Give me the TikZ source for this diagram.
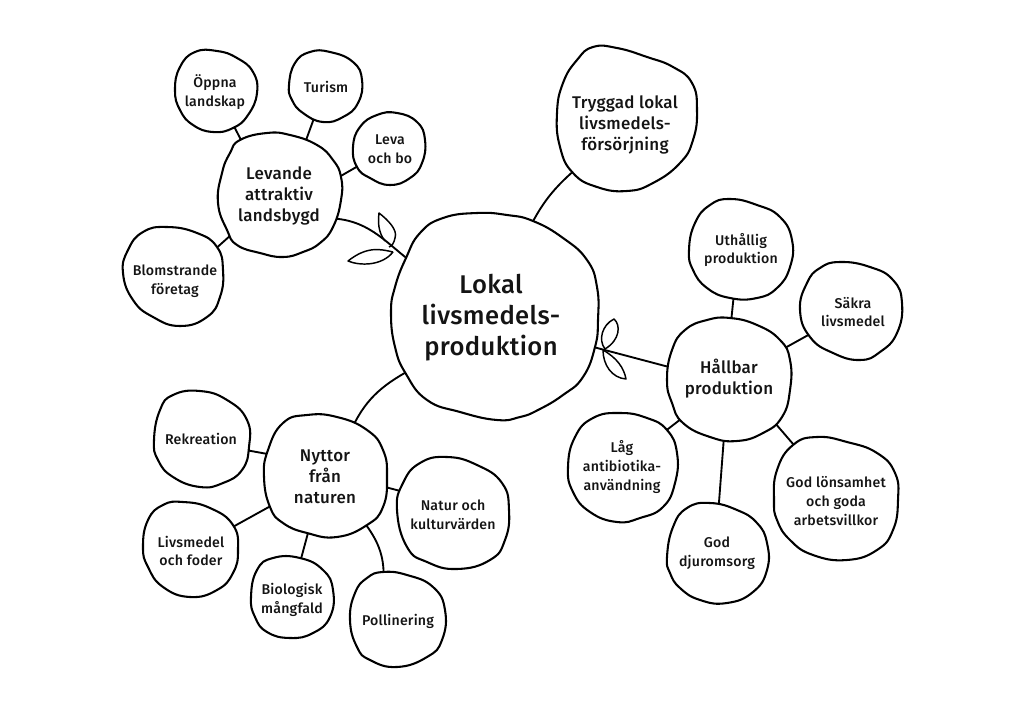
\documentclass[tikz,border=0pt]{standalone}
\usepackage{fontspec}
\setmainfont[UprightFont=* Medium,Ligatures=NoCommon,LetterSpace=1.5]{Fira Sans}
\pgfdeclarelayer{fg}
\pgfsetlayers{main,fg}
\tikzset{
  blobline/.style={draw=black,fill=white,line width=1.55pt,line join=round},
  conn/.style={draw=black,line width=1.4pt},
  leafline/.style={draw=black,line width=1.1pt,line join=round},
  base/.style={shape=circle,inner sep=0pt,align=center,text=black!92},
  rad/.style={minimum size=#1*1.5pt},
  big/.style={base,font=\fontsize{19.2}{23.3}\selectfont},
  mid/.style={base,font=\fontsize{12.7}{15.8}\selectfont},
  sml/.style={base,font=\fontsize{10.6}{14}\selectfont},
}
\newcommand{\blobshape}[1]{\draw[blobline] plot[smooth cycle,tension=.8] coordinates {#1};}
\begin{document}
\begin{tikzpicture}[x=.75pt,y=-.75pt]
\useasboundingbox (0,0) rectangle (1024,717);
\fill[white] (0,0) rectangle (1024,717);
\begin{pgfonlayer}{fg}
\node[big,rad=90] (main) at (491,318) {Lokal\\livsmedels-\\produktion};
\node[mid,rad=60] (lev) at (279,196) {Levande\\attraktiv\\landsbygd};
\node[mid,rad=60] (tryg) at (625,125) {Tryggad lokal\\livsmedels-\\försörjning};
\node[mid,rad=56] (hall) at (729,379) {Hållbar\\produktion};
\node[mid,rad=56] (nyt) at (325,477) {Nyttor\\från\\naturen};
\node[sml,rad=38] (oppna) at (215,92) {Öppna\\landskap};
\node[sml,rad=33] (tur) at (326,87) {Turism};
\node[sml,rad=34] (leva) at (390,149) {Leva\\och bo};
\node[sml,rad=44] (blom) at (175,281) {Blomstrande\\företag};
\node[sml,rad=46] (uth) at (741,250) {Uthållig\\produktion};
\node[sml,rad=45] (sak) at (853,312) {Säkra\\livsmedel};
\node[sml,rad=48] (lag) at (622,467) {Låg\\antibiotika-\\användning};
\node[sml,rad=45] (djur) at (717,553) {God\\djuromsorg};
\node[sml,rad=56] (god) at (836,501) {God lönsamhet\\och goda\\arbetsvillkor};
\node[sml,rad=44] (rek) at (201,439) {Rekreation};
\node[sml,rad=44] (liv) at (191,551) {Livsmedel\\och foder};
\node[sml,rad=37] (bio) at (292,600) {Biologisk\\mångfald};
\node[sml,rad=44] (pol) at (398,621) {Pollinering};
\node[sml,rad=50] (nat) at (453,515) {Natur och\\kulturvärden};
\end{pgfonlayer}
% connectors
\draw[conn] (lev.-22) to[out=-5,in=144] (main.145);
\draw[conn] (tryg.222) to[out=220,in=65] (main.67);
\draw[conn] (nyt.61) to[out=65,in=208] (main.213);
\draw[conn] (main.-16) -- (hall.169);
\draw[conn] (oppna.-61) -- (lev.125);
\draw[conn] (tur.249) -- (lev.64);
\draw[conn] (leva.208) -- (lev.17);
\draw[conn] (blom.38) -- (lev.219);
\draw[conn] (uth.-99) -- (hall.88);
\draw[conn] (sak.207) -- (hall.29);
\draw[conn] (lag.40) -- (hall.220);
\draw[conn] (djur.88) -- (hall.-95);
\draw[conn] (god.126) -- (hall.-43);
\draw[conn] (rek.-14) -- (nyt.157);
\draw[conn] (liv.30) -- (nyt.208);
\draw[conn] (bio.78) -- (nyt.-107);
\draw[conn] (pol.109) to[out=88,in=-52] (nyt.-49);
\draw[conn] (nat.154) -- (nyt.-9);
% blobs
\blobshape{(406,258)(420,233)(443,218)(477,213)(507,215)(533,221)(563,238)(587,260)(597,287)(598,320)(595,347)(583,377)(563,395)(538,410)(520,417)(497,420)(460,412)(427,400)(406,374)(395,347)(391,313)(395,287)}
\blobshape{(573,173)(597,187)(627,191)(653,183)(680,163)(693,140)(697,110)(692,83)(673,67)(647,57)(617,48)(593,47)(577,60)(563,83)(557,113)(560,147)}
\blobshape{(240,140)(267,133)(290,135)(317,145)(333,160)(341,177)(341,200)(333,227)(320,243)(303,252)(283,257)(260,253)(237,245)(227,230)(218,203)(222,173)(230,153)}
\blobshape{(175,90)(180,67)(195,52)(217,51)(237,58)(253,72)(257,93)(248,115)(233,128)(213,132)(193,125)(180,110)}
\blobshape{(289,85)(295,63)(310,52)(330,52)(353,62)(362,80)(358,103)(343,117)(323,122)(303,113)(292,100)}
\blobshape{(353,147)(360,127)(377,115)(397,113)(417,122)(425,140)(422,163)(410,178)(390,185)(370,178)(357,167)}
\blobshape{(123,273)(128,250)(143,232)(167,227)(197,233)(217,247)(223,270)(220,297)(207,317)(180,326)(153,317)(133,300)}
\blobshape{(689,250)(695,223)(710,205)(730,199)(757,205)(780,217)(792,240)(790,267)(777,288)(757,298)(730,298)(707,288)(693,270)}
\blobshape{(800,310)(807,283)(820,268)(840,262)(870,267)(893,280)(902,303)(897,333)(880,352)(860,360)(833,353)(810,337)}
\blobshape{(667,380)(672,350)(685,330)(707,320)(730,318)(757,325)(780,340)(790,360)(790,390)(782,417)(763,433)(737,441)(710,437)(683,423)(672,403)}
\blobshape{(568,467)(575,437)(593,418)(620,413)(647,418)(667,430)(677,453)(675,483)(663,507)(640,518)(617,522)(590,512)(573,492)}
\blobshape{(667,557)(673,527)(687,508)(710,503)(737,510)(757,523)(767,543)(767,570)(753,592)(727,603)(700,600)(680,588)(670,573)}
\blobshape{(774,500)(777,470)(793,445)(817,437)(847,442)(877,453)(895,473)(898,500)(893,530)(877,550)(847,560)(813,555)(790,540)(777,520)}
\blobshape{(264,477)(268,450)(283,423)(307,415)(337,417)(367,430)(383,450)(387,477)(383,507)(367,525)(337,537)(307,533)(283,523)(270,507)}
\blobshape{(154,440)(160,410)(173,395)(200,391)(227,400)(247,420)(249,447)(242,470)(223,483)(200,487)(173,477)(158,460)}
\blobshape{(143,547)(148,520)(163,505)(183,502)(210,508)(233,525)(238,550)(233,573)(217,590)(190,597)(163,587)(148,567)}
\blobshape{(251,597)(257,570)(273,558)(300,558)(323,570)(333,590)(330,617)(313,633)(290,638)(267,632)(255,617)}
\blobshape{(350,620)(355,593)(367,578)(383,572)(407,575)(433,587)(445,610)(442,640)(427,657)(397,667)(370,660)(357,647)}
\blobshape{(397,510)(403,483)(420,463)(447,457)(477,465)(502,483)(509,510)(505,540)(490,560)(457,569)(427,562)(407,547)}
% leaves
\draw[leafline] (385,241) .. controls (378,232) and (378,222) .. (379,213) .. controls (388,220) and (398,230) .. (395,238) .. controls (394,243) and (392,246) .. (389,247);
\draw[leafline] (393,252) .. controls (380,249) and (367,246) .. (348,261) .. controls (360,266) and (382,266) .. (393,252);
\draw[leafline] (605,349) .. controls (598,340) and (602,325) .. (614,319) .. controls (621,325) and (620,340) .. (605,349);
\draw[leafline] (603,350) .. controls (603,365) and (612,378) .. (626,379) .. controls (624,368) and (617,358) .. (603,350);
\end{tikzpicture}
\end{document}
